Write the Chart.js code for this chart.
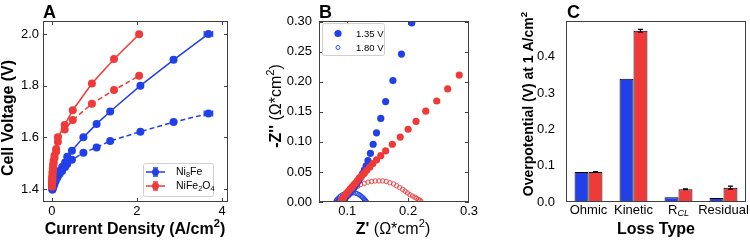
<!DOCTYPE html>
<html>
<head>
<meta charset="utf-8">
<script src="https://cdn.jsdelivr.net/npm/chart.js@4.4.0/dist/chart.umd.min.js"></script>
<style>
    html, body { margin: 0; padding: 0; background: #fff; width: 750px; height: 241px; overflow: hidden; }
    canvas { position: absolute; left: 0; top: 0; }
</style>
</head>
<body>
<canvas id="chartA" width="750" height="241"></canvas>
<canvas id="chartB" width="750" height="241"></canvas>
<canvas id="chartC" width="750" height="241"></canvas>
<script>
// ---- panel A: polarization curves ----
const ni8FeCurrent = [0.01, 0.02, 0.04, 0.06, 0.09, 0.13, 0.18, 0.24, 0.31, 0.36, 0.47, 0.74, 1.05, 1.37, 2.08, 2.86, 3.68];
const ni8FeVolt = [1.398, 1.405, 1.415, 1.425, 1.44, 1.455, 1.47, 1.485, 1.503, 1.525, 1.548, 1.60, 1.652, 1.70, 1.80, 1.90, 2.0];
const ni8FeVoltIR = [1.398, 1.404, 1.412, 1.42, 1.432, 1.445, 1.458, 1.47, 1.485, 1.497, 1.513, 1.54, 1.561, 1.586, 1.622, 1.659, 1.692];
const ni8FeCurrentErr = [0, 0, 0, 0, 0, 0, 0, 0, 0, 0, 0, 0, 0, 0, 0.02, 0.04, 0.1];

const nife2o4Current = [0.002, 0.004, 0.006, 0.008, 0.01, 0.015, 0.02, 0.03, 0.04, 0.06, 0.1, 0.14, 0.3, 0.49, 0.94, 1.46, 2.05];
const nife2o4Volt = [1.41, 1.42, 1.43, 1.44, 1.45, 1.465, 1.48, 1.495, 1.51, 1.53, 1.555, 1.60, 1.648, 1.705, 1.808, 1.903, 1.999];
const nife2o4VoltIR = [1.41, 1.418, 1.427, 1.436, 1.445, 1.458, 1.47, 1.485, 1.5, 1.52, 1.545, 1.583, 1.63, 1.667, 1.73, 1.783, 1.838];

const currentTicks = [0, 2, 4];
const voltTicks = [1.4, 1.6, 1.8, 2.0];

// ---- panel B: Nyquist plots ----
const blue135Re = [0.206, 0.189, 0.175, 0.163, 0.155, 0.148, 0.1425, 0.138, 0.134, 0.131, 0.128, 0.125, 0.122, 0.119, 0.116, 0.113, 0.11, 0.107, 0.104, 0.101, 0.098, 0.095, 0.092, 0.089, 0.087, 0.085];
const blue135Im = [0.298, 0.246, 0.202, 0.167, 0.139, 0.115, 0.096, 0.081, 0.069, 0.060, 0.053, 0.047, 0.041, 0.036, 0.031, 0.027, 0.023, 0.019, 0.015, 0.012, 0.009, 0.006, 0.004, 0.002, 0.001, 0.0];
const red135Re = [0.284, 0.265, 0.247, 0.229, 0.213, 0.2, 0.187, 0.174, 0.163, 0.155, 0.148, 0.142, 0.137, 0.132, 0.128, 0.124, 0.12, 0.117, 0.114, 0.111, 0.108, 0.105, 0.102, 0.099, 0.097, 0.095, 0.093, 0.091, 0.09];
const red135Im = [0.211, 0.188, 0.168, 0.151, 0.134, 0.121, 0.108, 0.096, 0.085, 0.077, 0.070, 0.064, 0.058, 0.053, 0.048, 0.044, 0.040, 0.036, 0.032, 0.029, 0.025, 0.022, 0.018, 0.015, 0.012, 0.009, 0.006, 0.004, 0.002];
const blue180Re = [0.081, 0.082, 0.083, 0.085, 0.087, 0.089, 0.092, 0.095, 0.098, 0.101, 0.104, 0.107, 0.110, 0.113, 0.116, 0.119, 0.121, 0.123, 0.125, 0.127, 0.128, 0.129, 0.130, 0.131, 0.131];
const blue180Im = [0.0, 0.002, 0.004, 0.006, 0.008, 0.010, 0.012, 0.013, 0.0145, 0.0155, 0.016, 0.016, 0.0155, 0.015, 0.014, 0.0125, 0.011, 0.0095, 0.008, 0.006, 0.0045, 0.003, 0.002, 0.001, 0.0];
const red180Re = [0.092, 0.095, 0.099, 0.103, 0.107, 0.112, 0.117, 0.122, 0.128, 0.134, 0.140, 0.146, 0.152, 0.158, 0.164, 0.170, 0.176, 0.181, 0.186, 0.191, 0.195, 0.199, 0.203, 0.207, 0.211, 0.214, 0.217, 0.219, 0.221];
const red180Im = [0.003, 0.007, 0.011, 0.015, 0.019, 0.023, 0.026, 0.029, 0.031, 0.033, 0.034, 0.035, 0.035, 0.035, 0.034, 0.032, 0.030, 0.027, 0.024, 0.021, 0.018, 0.015, 0.012, 0.010, 0.008, 0.006, 0.004, 0.003, 0.001];

const zReTicks = [0.1, 0.2, 0.3];
const zImTicks = [0.0, 0.05, 0.10, 0.15, 0.20, 0.25, 0.30];

// ---- panel C: loss breakdown ----
const lossTypes = ['Ohmic', 'Kinetic', 'RCL', 'Residual'];
const ni8FeLoss = [0.083, 0.34, 0.013, 0.011];
const ni8FeLossErr = [0, 0, 0, 0];
const nife2o4Loss = [0.083, 0.472, 0.035, 0.0395];
const nife2o4LossErr = [0.001, 0.004, 0.001, 0.004];
const lossTicks = [0.0, 0.1, 0.2, 0.3, 0.4];

const BLUE = 'rgb(33,64,232)';
const RED = 'rgb(240,58,58)';
const AXIS = '#404040';
const FONT = '"Liberation Sans", Arial, sans-serif';

// parts: [text, flags]; flags: B bold, I italic, ^ superscript, _ subscript
function richText(ctx, parts, x, y, size, align, rotate) {
    const segs = parts.map(([t, f = '']) => {
        const small = f.includes('^') || f.includes('_');
        const s = small ? size * 0.7 : size;
        const font = (f.includes('I') ? 'italic ' : '') + (f.includes('B') ? 'bold ' : '') + s + 'px ' + FONT;
        ctx.font = font;
        const dy = f.includes('^') ? -size * 0.36 : f.includes('_') ? size * 0.25 : 0;
        return { t, font, dy, w: ctx.measureText(t).width };
    });
    const total = segs.reduce((a, s) => a + s.w, 0);
    ctx.save();
    ctx.translate(x, y);
    if (rotate) ctx.rotate(-Math.PI / 2);
    let cx = align === 'right' ? -total : align === 'left' ? 0 : -total / 2;
    ctx.textAlign = 'left';
    ctx.textBaseline = 'middle';
    ctx.fillStyle = '#000';
    segs.forEach(s => {
        ctx.font = s.font;
        ctx.fillText(s.t, cx, s.dy);
        cx += s.w;
    });
    ctx.restore();
}

function drawBox(ctx, a) {
    ctx.strokeStyle = AXIS;
    ctx.lineWidth = 1;
    ctx.strokeRect(a.left + 0.5, a.top + 0.5, a.right - a.left - 1, a.bottom - a.top - 1);
}

function inwardTicks(ctx, chart, xTicks, yTicks, len) {
    const { chartArea: a, scales: { x, y } } = chart;
    ctx.beginPath();
    xTicks.forEach(v => {
        const px = Math.round(x.getPixelForValue(v)) + 0.5;
        if (px < a.left || px > a.right) return;
        ctx.moveTo(px, a.bottom); ctx.lineTo(px, a.bottom - len);
        ctx.moveTo(px, a.top); ctx.lineTo(px, a.top + len);
    });
    yTicks.forEach(v => {
        const py = Math.round(y.getPixelForValue(v)) + 0.5;
        if (py < a.top - 1 || py > a.bottom + 1) return;
        ctx.moveTo(a.left, py); ctx.lineTo(a.left + len, py);
        ctx.moveTo(a.right, py); ctx.lineTo(a.right - len, py);
    });
    ctx.stroke();
}

function tickLabels(ctx, chart, xTicks, yTicks, xFmt, yFmt, yGap, xTop) {
    const { chartArea: a, scales: { x, y } } = chart;
    ctx.fillStyle = '#000';
    ctx.font = '13px ' + FONT;
    ctx.textAlign = 'center';
    ctx.textBaseline = 'middle';
    xTicks.forEach(v => ctx.fillText(xFmt(v), x.getPixelForValue(v), xTop));
    ctx.textAlign = 'right';
    yTicks.forEach(v => ctx.fillText(yFmt(v), a.left - yGap, y.getPixelForValue(v)));
}

function panelLetter(ctx, letter, x) {
    ctx.fillStyle = '#000';
    ctx.font = 'bold 18px ' + FONT;
    ctx.textAlign = 'left';
    ctx.textBaseline = 'alphabetic';
    ctx.fillText(letter, x, 18);
}

const panelA = {
    id: 'panelA',
    afterDatasetsDraw(chart) {
        const { ctx, scales: { x, y } } = chart;
        ctx.save();
        chart.data.datasets.forEach((ds, i) => {
            if (!ds.xErr) return;
            ctx.strokeStyle = ds.borderColor;
            ctx.lineWidth = 1.2;
            ds.data.forEach((p, j) => {
                const e = ds.xErr[j];
                if (!e) return;
                const x0 = x.getPixelForValue(p.x - e), x1 = x.getPixelForValue(p.x + e);
                const py = y.getPixelForValue(p.y);
                ctx.beginPath();
                ctx.moveTo(x0, py); ctx.lineTo(x1, py);
                ctx.moveTo(x0, py - 3); ctx.lineTo(x0, py + 3);
                ctx.moveTo(x1, py - 3); ctx.lineTo(x1, py + 3);
                ctx.stroke();
            });
        });
        ctx.restore();
    },
    afterDraw(chart) {
        const { ctx, chartArea: a } = chart;
        ctx.save();
        drawBox(ctx, a);
        inwardTicks(ctx, chart, currentTicks, voltTicks, 4);
        tickLabels(ctx, chart, currentTicks, voltTicks, v => String(v), v => v.toFixed(1), 4, 211);
        richText(ctx, [['Current Density (A/cm', 'B'], ['2', 'B^'], [')', 'B']], 135, 230, 16, 'center');
        richText(ctx, [['Cell Voltage (V)', 'B']], 9, 118, 16, 'center', true);
        panelLetter(ctx, 'A', 43);

        // legend
        ctx.fillStyle = 'rgba(255,255,255,0.85)';
        ctx.strokeStyle = '#d0d0d0';
        ctx.lineWidth = 1;
        ctx.beginPath();
        ctx.roundRect(143.5, 163.5, 70, 33, 2);
        ctx.fill();
        ctx.stroke();
        [[BLUE, [['Ni', ''], ['8', '_'], ['Fe', '']], 172], [RED, [['NiFe', ''], ['2', '_'], ['O', ''], ['4', '_']], 186]].forEach(([c, label, ly]) => {
            ctx.strokeStyle = c;
            ctx.fillStyle = c;
            ctx.lineWidth = 1.5;
            ctx.beginPath();
            ctx.moveTo(146, ly); ctx.lineTo(165, ly);
            ctx.moveTo(155.5, ly - 4); ctx.lineTo(155.5, ly + 4);
            ctx.moveTo(153, ly - 4); ctx.lineTo(158, ly - 4);
            ctx.moveTo(153, ly + 4); ctx.lineTo(158, ly + 4);
            ctx.stroke();
            ctx.beginPath();
            ctx.arc(155.5, ly, 3.5, 0, Math.PI * 2);
            ctx.fill();
            richText(ctx, label, 176, ly, 10.5, 'left');
        });
        ctx.restore();
    }
};

const panelB = {
    id: 'panelB',
    afterDraw(chart) {
        const { ctx, chartArea: a } = chart;
        ctx.save();
        drawBox(ctx, a);
        inwardTicks(ctx, chart, zReTicks, zImTicks, 4);
        tickLabels(ctx, chart, zReTicks, zImTicks, v => v.toFixed(1), v => v.toFixed(2), 7, 211);
        richText(ctx, [["Z' ", 'B'], ['(Ω*cm', ''], ['2', '^'], [')', '']], 393, 230, 16, 'center');
        richText(ctx, [["-Z'' ", 'B'], ['(Ω*cm', ''], ['2', '^'], [')', '']], 277, 106, 16, 'center', true);
        panelLetter(ctx, 'B', 319);

        // legend
        ctx.fillStyle = 'rgba(255,255,255,0.85)';
        ctx.strokeStyle = '#d0d0d0';
        ctx.lineWidth = 1;
        ctx.beginPath();
        ctx.roundRect(322.5, 23.5, 62, 32, 2);
        ctx.fill();
        ctx.stroke();
        ctx.fillStyle = BLUE;
        ctx.beginPath();
        ctx.arc(338, 33.5, 3.6, 0, Math.PI * 2);
        ctx.fill();
        ctx.strokeStyle = BLUE;
        ctx.lineWidth = 0.9;
        ctx.beginPath();
        ctx.arc(338, 47.5, 2, 0, Math.PI * 2);
        ctx.stroke();
        ctx.fillStyle = '#000';
        ctx.font = '9.5px ' + FONT;
        ctx.textAlign = 'left';
        ctx.textBaseline = 'middle';
        ctx.fillText('1.35 V', 356, 34);
        ctx.fillText('1.80 V', 356, 48);
        ctx.restore();
    }
};

const panelC = {
    id: 'panelC',
    afterDatasetsDraw(chart) {
        const { ctx, scales: { y } } = chart;
        ctx.save();
        ctx.strokeStyle = '#000';
        ctx.lineWidth = 1.2;
        chart.data.datasets.forEach((ds, i) => {
            const meta = chart.getDatasetMeta(i);
            meta.data.forEach((bar, j) => {
                const e = ds.err[j];
                if (!e) return;
                const v = ds.data[j];
                const y0 = y.getPixelForValue(v - e), y1 = y.getPixelForValue(v + e);
                ctx.beginPath();
                ctx.moveTo(bar.x, y0); ctx.lineTo(bar.x, y1);
                ctx.moveTo(bar.x - 2.5, y1); ctx.lineTo(bar.x + 2.5, y1);
                ctx.moveTo(bar.x - 2.5, y0); ctx.lineTo(bar.x + 2.5, y0);
                ctx.stroke();
            });
        });
        ctx.restore();
    },
    afterDraw(chart) {
        const { ctx, chartArea: a, scales: { x, y } } = chart;
        ctx.save();
        drawBox(ctx, a);
        ctx.fillStyle = '#000';
        ctx.font = '13px ' + FONT;
        ctx.textAlign = 'right';
        ctx.textBaseline = 'middle';
        lossTicks.forEach(v => ctx.fillText(v.toFixed(1), a.left - 11, y.getPixelForValue(v)));
        lossTypes.forEach((name, i) => {
            const px = x.getPixelForValue(i);
            const parts = name === 'RCL' ? [['R', ''], ['CL', 'I_']] : [[name, '']];
            richText(ctx, parts, px, 210, 13, 'center');
        });
        richText(ctx, [['Loss Type', 'B']], 656, 230, 16, 'center');
        richText(ctx, [['Overpotential (V) at 1 A/cm', 'B'], ['2', 'B^']], 529, 104, 14, 'center', true);
        panelLetter(ctx, 'C', 567);
        ctx.restore();
    }
};

function lineSet(xs, ys, color, dash, xErr) {
    return {
        data: xs.map((v, i) => ({ x: v, y: ys[i] })),
        showLine: true,
        borderColor: color,
        backgroundColor: color,
        borderWidth: 1.5,
        borderDash: dash,
        pointRadius: 4,
        pointBorderWidth: 0,
        pointBackgroundColor: color,
        clip: false,
        xErr: xErr
    };
}

function dotSet(xs, ys, color, open) {
    return {
        data: xs.map((v, i) => ({ x: v, y: ys[i] })),
        showLine: false,
        pointRadius: open ? 2.2 : 3.6,
        pointBorderWidth: open ? 0.9 : 0,
        pointBorderColor: color,
        pointBackgroundColor: open ? 'rgba(255,255,255,0)' : color,
        clip: 0
    };
}

const common = {
    responsive: false,
    animation: false,
    devicePixelRatio: 1,
    events: [],
    plugins: { legend: { display: false }, tooltip: { enabled: false } }
};

new Chart(document.getElementById('chartA'), {
    type: 'scatter',
    data: {
        datasets: [
            lineSet(nife2o4Current, nife2o4Volt, RED, []),
            lineSet(nife2o4Current, nife2o4VoltIR, RED, [5, 3]),
            lineSet(ni8FeCurrent, ni8FeVolt, BLUE, [], ni8FeCurrentErr),
            lineSet(ni8FeCurrent, ni8FeVoltIR, BLUE, [5, 3], ni8FeCurrentErr)
        ]
    },
    options: {
        ...common,
        layout: { padding: { left: 43, top: 21, right: 522, bottom: 39 } },
        scales: {
            x: { type: 'linear', display: false, min: -0.21, max: 4.14 },
            y: { type: 'linear', display: false, min: 1.35, max: 2.05 }
        }
    },
    plugins: [panelA]
});

new Chart(document.getElementById('chartB'), {
    type: 'scatter',
    data: {
        datasets: [
            dotSet(red135Re, red135Im, RED, false),
            dotSet(blue135Re, blue135Im, BLUE, false),
            dotSet(red180Re, red180Im, RED, true),
            dotSet(blue180Re, blue180Im, BLUE, true)
        ]
    },
    options: {
        ...common,
        layout: { padding: { left: 319, top: 21, right: 281, bottom: 39 } },
        scales: {
            x: { type: 'linear', display: false, min: 0.0535, max: 0.3 },
            y: { type: 'linear', display: false, min: 0, max: 0.301 }
        }
    },
    plugins: [panelB]
});

new Chart(document.getElementById('chartC'), {
    type: 'bar',
    data: {
        labels: lossTypes,
        datasets: [
            { data: ni8FeLoss, err: ni8FeLossErr, backgroundColor: BLUE, borderColor: '#000', borderWidth: 1 },
            { data: nife2o4Loss, err: nife2o4LossErr, backgroundColor: RED, borderColor: '#000', borderWidth: 1 }
        ]
    },
    options: {
        ...common,
        categoryPercentage: 0.62,
        barPercentage: 1.0,
        layout: { padding: { left: 566, top: 21, right: 4, bottom: 39 } },
        scales: {
            x: { display: false },
            y: { display: false, min: 0, max: 0.499 }
        }
    },
    plugins: [panelC]
});
</script>
</body>
</html>
